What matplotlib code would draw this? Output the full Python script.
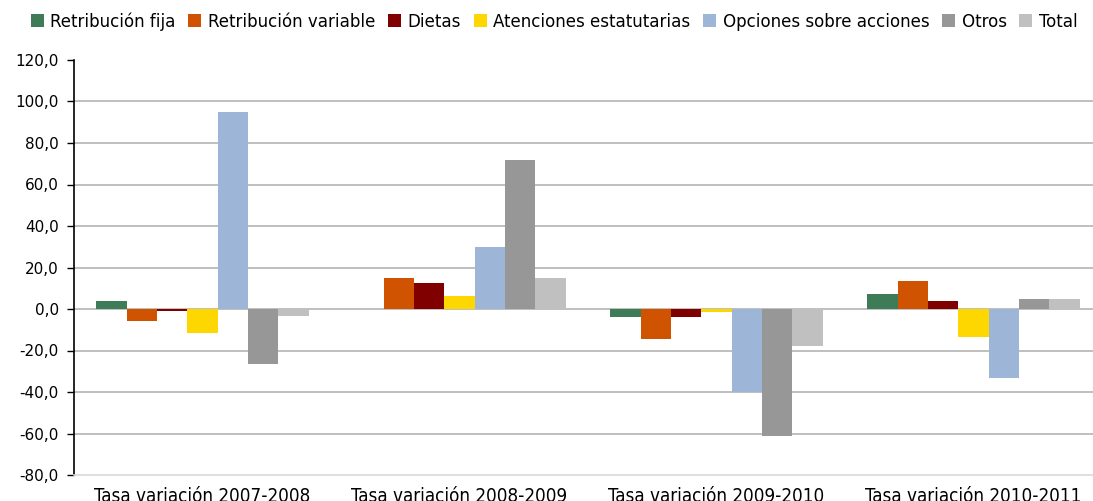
import numpy as np
import matplotlib.pyplot as plt
from matplotlib.ticker import FuncFormatter

# categories and series values (% change)
categories = ["Tasa variación 2007-2008", "Tasa variación 2008-2009",
              "Tasa variación 2009-2010", "Tasa variación 2010-2011"]
series_names = ["Retribución fija", "Retribución variable", "Dietas",
                "Atenciones estatutarias", "Opciones sobre acciones", "Otros", "Total"]
fija = [4.0, 0.0, -4.0, 7.0]
variable = [-5.6, 14.8, -14.3, 13.7]
dietas = [-0.8, 12.4, -4.0, 4.0]
atenciones = [-11.5, 6.1, -1.3, -13.4]
opciones = [94.7, 29.8, -40.2, -33.2]
otros = [-26.6, 71.8, -61.3, 5.0]
total = [-3.2, 14.8, -17.7, 5.0]
colors = ["#3e7c58", "#cf5300", "#800000", "#ffd700", "#9db5d6", "#979797", "#c0c0c0"]

all_series = [fija, variable, dietas, atenciones, opciones, otros, total]

fig = plt.figure(figsize=(10.93, 5.01), dpi=100)
ax = fig.add_axes([74 / 1093, 1 - 475 / 501, 1028 / 1093, 415 / 501])

x = np.arange(len(categories))
w = 0.118
for i, (vals, name, col) in enumerate(zip(all_series, series_names, colors)):
    ax.bar(x + (i - 3) * w, vals, w, color=col, label=name, zorder=3)

ax.set_xlim(-0.5, 3.5)
ax.set_ylim(-80, 120)
yticks = np.arange(-80, 121, 20)
ax.set_yticks(yticks)
ax.yaxis.set_major_formatter(FuncFormatter(lambda v, p: f"{v:.1f}".replace(".", ",")))
for t in yticks[1:-1]:
    ax.axhline(t, color="#b4b4b4", lw=1.2, zorder=1)

ax.set_xticks(x)
ax.set_xticklabels(categories, fontsize=13.5, stretch="condensed")
ax.tick_params(axis="x", length=0, pad=9)
ax.tick_params(axis="y", length=5, width=1, labelsize=11, direction="out", pad=6)

for s in ["top", "right"]:
    ax.spines[s].set_visible(False)
ax.spines["left"].set_color("black")
ax.spines["left"].set_linewidth(1.2)
ax.spines["bottom"].set_color("#d9d9d9")
ax.spines["bottom"].set_linewidth(1.2)

fig.legend(loc="upper center", bbox_to_anchor=(0.507, 1.008), ncol=7, frameon=False,
           prop={"size": 13.3, "stretch": "condensed"},
           handlelength=0.7, handleheight=0.7, handletextpad=0.35, columnspacing=0.7)

fig.savefig("out.png", dpi=100)
